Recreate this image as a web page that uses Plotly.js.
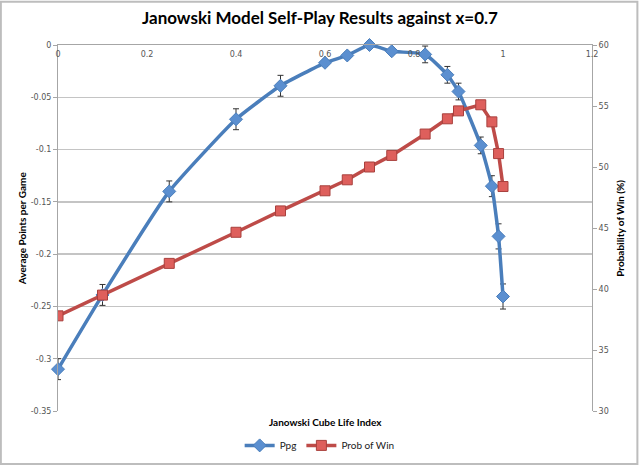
<!DOCTYPE html>
<html>
<head>
<meta charset="utf-8">
<script src="https://cdn.plot.ly/plotly-3.0.1.min.js"></script>
<style>
  html, body { margin: 0; padding: 0; background: #fff; }
  #chart { width: 640px; height: 472px; }
</style>
</head>
<body>
<div id="chart"></div>
<script>
// cube life index values
var lifeIndex = [0, 0.1, 0.25, 0.4, 0.5, 0.6, 0.65, 0.7, 0.75, 0.825, 0.875, 0.9, 0.95, 0.975, 0.99, 1.0];
// average points per game (left axis)
var ppg = [-0.31, -0.239, -0.14, -0.071, -0.039, -0.017, -0.010, 0, -0.006, -0.009, -0.0285, -0.0445, -0.096, -0.135, -0.183, -0.2405];
var ppgErr = [0.01, 0.01, 0.01, 0.01, 0.01, 0.003, 0.003, 0.002, 0.003, 0.008, 0.008, 0.008, 0.008, 0.01, 0.012, 0.012];
// probability of win in percent (right axis)
var winProb = [37.8, 39.5, 42.1, 44.65, 46.4, 48.05, 48.95, 50.0, 50.95, 52.7, 53.95, 54.6, 55.1, 53.7, 51.1, 48.4];

var leftTicks = [0, -0.05, -0.1, -0.15, -0.2, -0.25, -0.3, -0.35];
var leftTickText = ['0', '-0.05', '-0.1', '-0.15', '-0.2', '-0.25', '-0.3', '-0.35'];

var tickFont = {family: 'DejaVu Sans, sans-serif', size: 8, color: '#555'};

var ppgTrace = {
  x: lifeIndex,
  y: ppg,
  name: 'Ppg',
  type: 'scatter',
  mode: 'lines+markers',
  cliponaxis: false,
  line: {color: '#4A7EBB', width: 3.5, shape: 'spline', smoothing: 0.45},
  marker: {symbol: 'diamond', size: 10, color: '#5B8FD0', line: {color: '#4A7EBB', width: 1}},
  error_y: {type: 'data', array: ppgErr, visible: true, color: '#333', thickness: 1, width: 3}
};

var winTrace = {
  x: lifeIndex,
  y: winProb,
  name: 'Prob of Win',
  type: 'scatter',
  mode: 'lines+markers',
  yaxis: 'y2',
  line: {color: '#BE4B48', width: 3.5},
  marker: {symbol: 'square', size: 10, color: '#DE5F5C', line: {color: '#A8403D', width: 1}}
};

var layout = {
  width: 640,
  height: 472,
  margin: {l: 58, r: 48, t: 45, b: 55},
  paper_bgcolor: '#fff',
  plot_bgcolor: '#fff',
  showlegend: true,
  title: {
    text: '<b>Janowski Model Self-Play Results against x=0.7</b>',
    font: {family: 'Lato, sans-serif', size: 17, color: '#000'},
    x: 0.5, xanchor: 'center', y: 0.962, yanchor: 'middle'
  },
  xaxis: {
    range: [0, 1.2],
    dtick: 0.2,
    side: 'top',
    ticklabelposition: 'inside',
    ticklabeloverflow: 'allow',
    ticklabelstandoff: 5,
    ticks: '',
    showgrid: false,
    zeroline: false,
    showline: true,
    linecolor: '#a6a6a6',
    linewidth: 1,
    tickfont: tickFont
  },
  yaxis: {
    range: [-0.35, 0],
    tickvals: leftTicks,
    ticktext: leftTickText,
    ticklabeloverflow: 'allow',
    ticks: 'outside',
    ticklen: 4,
    tickcolor: '#a6a6a6',
    showgrid: true,
    gridcolor: '#c4c4c4',
    gridwidth: 1.3,
    zeroline: false,
    showline: true,
    linecolor: '#a6a6a6',
    tickfont: tickFont
  },
  yaxis2: {
    range: [30, 60],
    dtick: 5,
    overlaying: 'y',
    side: 'right',
    ticklabeloverflow: 'allow',
    ticks: 'outside',
    ticklen: 4,
    tickcolor: '#a6a6a6',
    showgrid: false,
    zeroline: false,
    showline: true,
    linecolor: '#a6a6a6',
    tickfont: tickFont
  },
  legend: {
    orientation: 'h',
    x: 0.49, xanchor: 'center',
    y: -0.094, yanchor: 'middle',
    font: {family: 'Lato, sans-serif', size: 10, color: '#222'},
    itemwidth: 30,
    tracegroupgap: 0
  },
  annotations: [
    {
      text: '<b>Janowski Cube Life Index</b>',
      xref: 'paper', yref: 'paper', x: 0.5, y: 0, xanchor: 'center', yanchor: 'top', yshift: -3,
      showarrow: false, font: {family: 'Lato, sans-serif', size: 10, color: '#000'}
    },
    {
      text: '<b>Average Points per Game</b>',
      xref: 'paper', yref: 'paper', x: -0.067, y: 0.5, xanchor: 'center', yanchor: 'middle', textangle: -90,
      showarrow: false, font: {family: 'Lato, sans-serif', size: 10, color: '#000'}
    },
    {
      text: '<b>Probability of Win (%)</b>',
      xref: 'paper', yref: 'paper', x: 1.052, y: 0.5, xanchor: 'center', yanchor: 'middle', textangle: -90,
      showarrow: false, font: {family: 'Lato, sans-serif', size: 10, color: '#000'}
    }
  ],
  shapes: [
    {
      type: 'rect', xref: 'paper', yref: 'paper',
      x0: -0.107, x1: 1.085, y0: -0.145, y1: 1.118,
      line: {color: '#bdbdbd', width: 2}
    }
  ]
};

Plotly.newPlot('chart', [ppgTrace, winTrace], layout, {displayModeBar: false, staticPlot: true});
</script>
</body>
</html>
